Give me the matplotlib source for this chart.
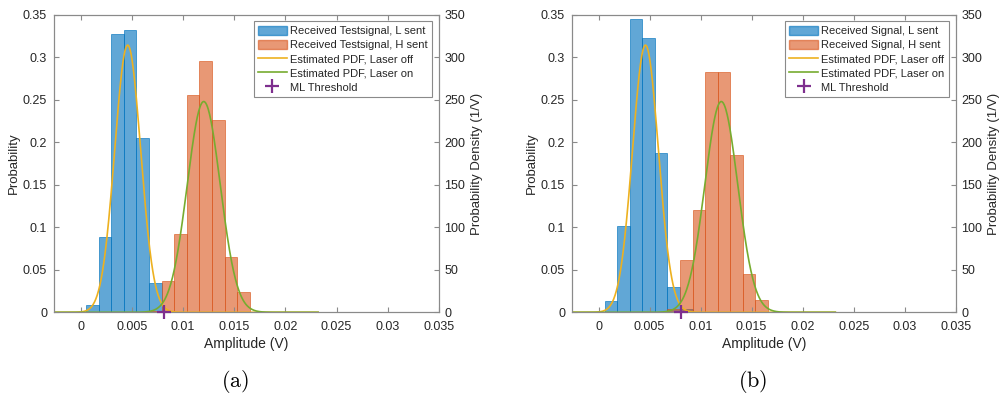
import numpy as np
import matplotlib.pyplot as plt
from matplotlib.patches import Patch
from matplotlib.lines import Line2D

plt.rcParams['font.family'] = ['Liberation Sans', 'DejaVu Sans']
plt.rcParams['mathtext.fontset'] = 'cm'

# histogram bins (V)
bin_width = 0.001232
start_a = 0.00052
start_b = 0.00059

# panel (a): probability per bin
low_a = [0.009, 0.088, 0.327, 0.332, 0.205, 0.035, 0.002]      # bins 0..6
high_a = [0.002, 0.037, 0.092, 0.255, 0.296, 0.226, 0.065, 0.024]  # bins 5..12

# panel (b)
low_b = [0.013, 0.101, 0.345, 0.322, 0.187, 0.030, 0.004]
high_b = [0.004, 0.061, 0.120, 0.283, 0.283, 0.185, 0.045, 0.014]

# gaussian fits (mean, sigma) in V
pdf_off = (0.0046, 0.00127)
pdf_on = (0.01203, 0.00161)
threshold = 0.0081

legend_a = ['Received Testsignal, L sent', 'Received Testsignal, H sent']
legend_b = ['Received Signal, L sent', 'Received Signal, H sent']

blue = '#0072BD'
orange = '#D95319'
yellow = '#EDB120'
green = '#77AC30'
purple = '#7E2F8E'
grey = '#8a8a8a'
txt = '#262626'


def gauss(x, mu, sig):
    return np.exp(-0.5 * ((x - mu) / sig) ** 2) / (sig * np.sqrt(2 * np.pi))


def draw_panel(ax, start, low, high, labels, caption):
    lefts_low = start + bin_width * np.arange(len(low))
    lefts_high = start + bin_width * (5 + np.arange(len(high)))
    ax.bar(lefts_low, low, width=bin_width, align='edge', color=blue,
           alpha=0.62, edgecolor=blue, linewidth=0.7)
    ax.bar(lefts_high, high, width=bin_width, align='edge', color=orange,
           alpha=0.6, edgecolor=orange, linewidth=0.7)
    ax.set_xlim(-0.0026, 0.035)
    ax.set_ylim(0, 0.35)
    ax.set_xticks(np.arange(0, 0.0351, 0.005))
    ax.set_xticklabels(['0', '0.005', '0.01', '0.015', '0.02', '0.025', '0.03', '0.035'])
    ax.set_yticks(np.arange(0, 0.351, 0.05))
    ax.set_yticklabels(['0', '0.05', '0.1', '0.15', '0.2', '0.25', '0.3', '0.35'])
    ax.set_xlabel('Amplitude (V)', fontsize=10, color=txt, labelpad=3)
    ax.set_ylabel('Probability', fontsize=9.5, color=txt, labelpad=2)
    ax.tick_params(direction='in', length=3.5, labelsize=9, colors=grey,
                   labelcolor=txt, top=True)
    ax.tick_params(axis='x', pad=6)
    ax.tick_params(axis='y', pad=5)
    for s in ax.spines.values():
        s.set_color(grey)
        s.set_linewidth(0.8)

    ax2 = ax.twinx()
    x = np.linspace(-0.0026, 0.0232, 600)
    ax2.plot(x, gauss(x, *pdf_off), color=yellow, lw=1.2)
    ax2.plot(x, gauss(x, *pdf_on), color=green, lw=1.2)
    ax2.plot([threshold], [0], marker='+', color=purple, ms=10, mew=1.6,
             ls='none', clip_on=False, zorder=5)
    ax2.set_ylim(0, 350)
    ax2.set_yticks(np.arange(0, 351, 50))
    ax2.set_ylabel('Probability Density (1/V)', fontsize=9.5, color=txt, labelpad=4)
    ax2.tick_params(direction='in', length=3.5, labelsize=9, colors=grey,
                    labelcolor=txt, pad=4)
    for s in ax2.spines.values():
        s.set_color(grey)
        s.set_linewidth(0.8)

    handles = [
        Patch(facecolor=blue, alpha=0.62, edgecolor=blue),
        Patch(facecolor=orange, alpha=0.6, edgecolor=orange),
        Line2D([], [], color=yellow, lw=1.2),
        Line2D([], [], color=green, lw=1.2),
        Line2D([], [], color=purple, marker='+', ls='none', ms=10, mew=1.6),
    ]
    names = labels + ['Estimated PDF, Laser off', 'Estimated PDF, Laser on', 'ML Threshold']
    leg = ax2.legend(handles, names, loc='upper right', fontsize=8,
                     frameon=True, fancybox=False, framealpha=1,
                     edgecolor=grey, borderpad=0.4, labelspacing=0.33,
                     handlelength=2.6, handleheight=0.9, handletextpad=0.3,
                     borderaxespad=0.6, bbox_to_anchor=(1.0, 1.0))
    leg.get_frame().set_linewidth(0.8)
    for t in leg.get_texts():
        t.set_color(txt)

    ax.text(0.47, -0.232, caption, transform=ax.transAxes, ha='center',
            va='center', fontsize=16, color='black')


fig = plt.figure(figsize=(10.01, 3.98), dpi=100)
ax_a = fig.add_axes([0.0539, 0.2153, 0.3846, 0.748])
ax_b = fig.add_axes([0.5714, 0.2153, 0.3834, 0.748])

draw_panel(ax_a, start_a, low_a, high_a, legend_a, r'$\mathrm{(a)}$')
draw_panel(ax_b, start_b, low_b, high_b, legend_b, r'$\mathrm{(b)}$')

fig.savefig('out.png', dpi=100)
